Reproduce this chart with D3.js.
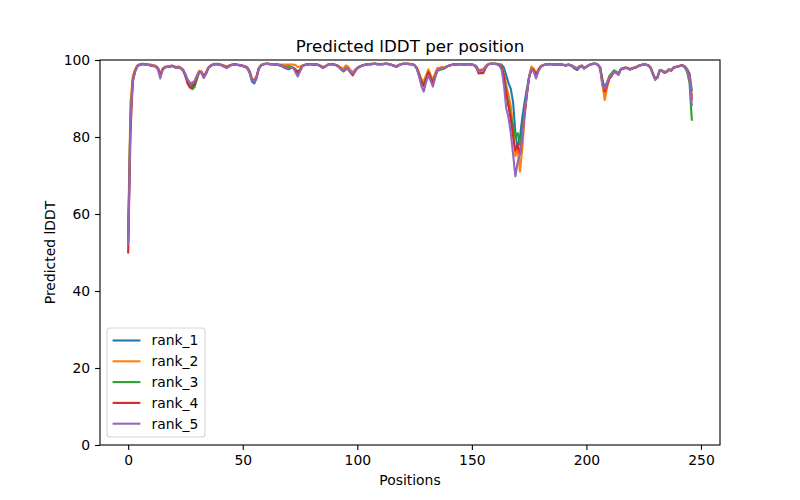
<!DOCTYPE html>
<html lang="en">
<head>
    <meta charset="UTF-8">
    <title>Predicted lDDT per position</title>
    <style>
        body { margin: 0; background: #fff; }
        svg text { font-family: 'DejaVu Sans', sans-serif; fill: #000; }
    </style>
    <script src="https://d3js.org/d3.v7.min.js"></script>
</head>
<body>
    <svg width="800" height="500"></svg>
    <script>
        // per-position predicted lDDT (positions 0..246)
        const rank_1 = [
            53, 86, 95.0, 97.3, 98.5, 98.8, 98.9, 98.9, 98.8, 98.7,
            98.6, 98.5, 98.4, 97.9, 96.2, 97.6, 98.2, 98.3, 98.3, 98.5,
            98.3, 98.1, 98.2, 97.9, 97.5, 96.3, 94.6, 93.8, 93.5, 94.2,
            95.8, 97.1, 96.9, 95.8, 96.7, 98.0, 98.5, 98.8, 98.9, 98.9,
            98.8, 98.6, 98.3, 98.1, 98.4, 98.7, 98.8, 98.8, 98.7, 98.6,
            98.4, 98.2, 97.8, 96.6, 94.4, 93.9, 95.2, 97.7, 98.6, 98.9,
            99.0, 99.0, 98.9, 98.9, 98.8, 98.8, 98.6, 98.4, 98.0, 97.8,
            97.6, 97.9, 98.0, 97.5, 96.6, 97.4, 98.4, 98.7, 98.8, 98.9,
            98.9, 98.8, 98.9, 98.7, 98.4, 98.1, 98.3, 98.7, 98.9, 98.9,
            98.8, 98.6, 98.2, 97.7, 97.3, 98.0, 97.9, 97.1, 96.6, 97.3,
            97.9, 98.3, 98.5, 98.7, 98.8, 98.9, 98.9, 99.0, 99.0, 98.9,
            98.9, 98.9, 99.0, 99.0, 98.9, 98.7, 98.5, 98.3, 98.6, 98.9,
            99.0, 99.0, 99.0, 98.9, 98.9, 98.6, 97.9, 96.3, 94.6, 93.8,
            95.4, 96.9, 95.6, 94.5, 96.0, 97.5, 97.7, 98.0, 97.9, 98.3,
            98.5, 98.7, 98.8, 98.8, 98.9, 98.9, 98.8, 98.8, 98.9, 98.9,
            98.8, 98.7, 98.3, 97.2, 97.4, 97.5, 98.3, 98.8, 99.0, 99.0,
            99.0, 99.0, 98.9, 98.8, 98.0, 96.0, 94.0, 92.5, 89.0, 81.0,
            77.0, 80.0, 85.0, 89.0, 92.5, 95.5, 97.5, 97.2, 95.8, 97.3,
            98.2, 98.6, 98.8, 98.9, 98.9, 98.9, 98.8, 98.8, 98.9, 98.8,
            98.7, 98.6, 98.7, 98.6, 98.2, 97.7, 97.4, 98.1, 98.4, 97.8,
            98.2, 98.6, 98.9, 99.0, 99.0, 98.8, 98.1, 94.8, 92.4, 94.2,
            95.6, 96.1, 97.0, 96.7, 96.3, 97.5, 97.7, 97.9, 97.8, 97.5,
            97.8, 98.0, 98.2, 98.5, 98.7, 98.8, 98.8, 98.6, 98.0, 96.6,
            95.2, 95.7, 97.3, 97.2, 96.9, 97.1, 97.6, 97.4, 98.0, 98.2,
            98.3, 98.5, 98.6, 98.3, 97.6, 96.5, 92.2
        ];
        const rank_2 = [
            56, 89, 95.8, 97.6, 98.6, 98.9, 99.0, 99.0, 98.9, 98.9,
            98.8, 98.7, 98.5, 98.0, 96.4, 97.7, 98.2, 98.4, 98.4, 98.6,
            98.4, 98.2, 98.3, 98.0, 97.4, 96.0, 94.9, 94.2, 94.0, 94.6,
            96.0, 97.2, 97.0, 96.0, 96.8, 98.1, 98.6, 98.9, 99.0, 99.0,
            98.9, 98.8, 98.6, 98.4, 98.6, 98.8, 98.9, 98.9, 98.8, 98.7,
            98.5, 98.3, 98.0, 97.2, 95.2, 94.6, 95.8, 97.9, 98.7, 98.9,
            99.0, 99.0, 99.0, 98.9, 98.9, 98.9, 98.8, 98.8, 98.8, 98.8,
            98.8, 98.8, 98.8, 98.7, 98.2, 98.3, 98.6, 98.8, 98.9, 98.9,
            98.9, 98.9, 98.9, 98.8, 98.5, 98.2, 98.4, 98.8, 98.9, 99.0,
            98.9, 98.7, 98.4, 98.0, 97.8, 98.6, 98.3, 97.4, 96.8, 97.5,
            98.0, 98.4, 98.6, 98.8, 98.9, 98.9, 99.0, 99.0, 99.0, 99.0,
            98.9, 99.0, 99.0, 99.0, 98.9, 98.8, 98.6, 98.4, 98.7, 98.9,
            99.0, 99.0, 99.0, 99.0, 98.9, 98.7, 98.0, 96.6, 95.0, 94.5,
            96.0, 97.6, 96.2, 94.8, 96.6, 98.0, 98.0, 98.2, 98.1, 98.4,
            98.6, 98.8, 98.8, 98.9, 98.9, 98.9, 98.9, 98.8, 98.9, 98.9,
            98.8, 98.7, 98.4, 97.4, 97.5, 97.6, 98.4, 98.9, 99.0, 99.0,
            99.0, 99.0, 98.8, 98.5, 96.5, 93.5, 91.0, 88.0, 82.0, 75.0,
            77.0, 71.0, 77.0, 85.0, 91.0, 96.0, 98.3, 97.8, 96.5, 97.6,
            98.4, 98.7, 98.9, 98.9, 99.0, 98.9, 98.9, 98.8, 98.9, 98.8,
            98.8, 98.7, 98.8, 98.7, 98.5, 98.1, 97.9, 98.4, 98.6, 98.0,
            98.3, 98.7, 98.9, 99.0, 99.0, 98.8, 97.5, 93.5, 89.6, 92.8,
            95.0, 96.0, 97.2, 96.9, 96.4, 97.7, 97.9, 98.1, 98.0, 97.7,
            97.9, 98.1, 98.3, 98.6, 98.8, 98.8, 98.8, 98.7, 98.1, 96.6,
            95.2, 95.6, 97.4, 97.3, 96.9, 97.1, 97.6, 97.4, 98.1, 98.3,
            98.4, 98.6, 98.7, 98.3, 97.4, 95.5, 90.8
        ];
        const rank_3 = [
            54, 85, 94.8, 97.1, 98.4, 98.8, 98.9, 98.9, 98.8, 98.7,
            98.6, 98.4, 98.3, 97.7, 96.0, 97.5, 98.1, 98.2, 98.2, 98.4,
            98.2, 98.0, 98.1, 97.8, 97.2, 95.8, 94.0, 93.2, 92.4, 93.0,
            95.0, 96.8, 96.8, 95.6, 96.5, 97.9, 98.4, 98.8, 98.9, 98.9,
            98.8, 98.6, 98.3, 98.0, 98.4, 98.7, 98.8, 98.8, 98.7, 98.6,
            98.5, 98.3, 98.0, 97.0, 95.0, 94.6, 95.6, 97.8, 98.6, 98.9,
            99.0, 99.0, 98.9, 98.9, 98.8, 98.8, 98.7, 98.6, 98.4, 98.3,
            98.4, 98.2, 98.0, 97.6, 97.0, 97.5, 98.4, 98.7, 98.8, 98.9,
            98.9, 98.8, 98.9, 98.7, 98.4, 98.0, 98.3, 98.7, 98.9, 98.9,
            98.8, 98.6, 98.2, 97.5, 97.0, 97.6, 97.6, 96.8, 96.4, 97.2,
            97.8, 98.2, 98.5, 98.7, 98.8, 98.9, 98.9, 99.0, 99.0, 98.9,
            98.9, 98.9, 99.0, 99.0, 98.9, 98.7, 98.5, 98.2, 98.6, 98.9,
            99.0, 99.0, 99.0, 98.9, 98.9, 98.6, 97.8, 96.2, 94.5, 93.6,
            95.2, 96.8, 95.4, 94.2, 95.8, 97.2, 97.4, 97.6, 97.8, 98.2,
            98.5, 98.7, 98.8, 98.8, 98.9, 98.9, 98.8, 98.8, 98.9, 98.9,
            98.8, 98.7, 98.3, 97.2, 97.3, 97.4, 98.2, 98.8, 99.0, 99.0,
            99.0, 98.9, 98.7, 98.3, 96.0, 92.0, 88.5, 85.5, 83.0, 80.0,
            81.0, 78.0, 81.5, 87.0, 91.5, 95.5, 97.6, 97.2, 95.8, 97.2,
            98.2, 98.6, 98.8, 98.9, 98.9, 98.9, 98.8, 98.8, 98.9, 98.8,
            98.7, 98.6, 98.8, 98.7, 98.4, 98.0, 97.8, 98.3, 98.5, 97.9,
            98.2, 98.6, 98.9, 99.0, 99.0, 98.8, 98.0, 94.8, 92.2, 94.0,
            95.8, 96.6, 97.3, 97.0, 96.6, 97.6, 97.8, 98.0, 97.9, 97.6,
            97.8, 98.0, 98.2, 98.5, 98.7, 98.8, 98.8, 98.6, 98.0, 96.4,
            95.0, 95.5, 97.3, 97.2, 96.7, 96.9, 97.5, 97.3, 98.0, 98.2,
            98.3, 98.5, 98.5, 98.0, 96.8, 94.0, 84.5
        ];
        const rank_4 = [
            50, 81, 94.2, 97.0, 98.3, 98.7, 98.9, 98.9, 98.8, 98.7,
            98.6, 98.5, 98.4, 97.8, 96.0, 97.5, 98.1, 98.2, 98.3, 98.5,
            98.3, 98.0, 98.2, 97.9, 97.3, 95.8, 93.8, 92.8, 93.0, 93.8,
            95.4, 96.9, 96.7, 95.6, 96.6, 98.0, 98.5, 98.8, 98.9, 98.9,
            98.8, 98.6, 98.3, 98.0, 98.4, 98.7, 98.8, 98.8, 98.7, 98.6,
            98.5, 98.3, 98.0, 97.0, 95.0, 94.5, 95.6, 97.8, 98.6, 98.9,
            99.0, 99.0, 98.9, 98.9, 98.8, 98.8, 98.7, 98.5, 98.2, 98.0,
            97.8, 97.9, 98.0, 97.4, 96.8, 97.3, 98.4, 98.7, 98.8, 98.9,
            98.9, 98.8, 98.9, 98.7, 98.4, 98.0, 98.3, 98.7, 98.9, 98.9,
            98.8, 98.6, 98.2, 97.6, 97.2, 97.8, 97.6, 96.8, 96.0, 97.0,
            97.8, 98.2, 98.5, 98.7, 98.8, 98.9, 98.9, 99.0, 99.0, 98.9,
            98.9, 98.9, 99.0, 99.0, 98.9, 98.7, 98.5, 98.2, 98.6, 98.9,
            99.0, 99.0, 99.0, 98.9, 98.9, 98.6, 97.8, 96.0, 94.2, 93.2,
            95.0, 96.8, 95.2, 94.0, 95.9, 97.4, 97.6, 97.9, 97.9, 98.3,
            98.5, 98.7, 98.8, 98.8, 98.9, 98.9, 98.8, 98.8, 98.9, 98.9,
            98.8, 98.6, 97.9, 96.5, 96.6, 96.6, 97.9, 98.8, 99.0, 99.0,
            99.0, 98.9, 98.7, 98.2, 95.5, 91.0, 88.0, 84.5, 80.0, 76.5,
            78.0, 75.5, 80.0, 86.0, 91.0, 95.5, 97.6, 97.4, 96.0, 97.3,
            98.2, 98.6, 98.8, 98.9, 98.9, 98.9, 98.8, 98.8, 98.9, 98.8,
            98.7, 98.6, 98.8, 98.7, 98.4, 98.0, 97.8, 98.3, 98.5, 97.8,
            98.2, 98.6, 98.9, 99.0, 99.0, 98.8, 97.9, 94.2, 91.8, 93.6,
            95.2, 95.8, 96.9, 96.7, 96.2, 97.6, 97.8, 98.0, 97.9, 97.6,
            97.8, 98.0, 98.2, 98.5, 98.7, 98.8, 98.8, 98.6, 98.0, 96.4,
            95.0, 95.4, 97.2, 97.1, 96.7, 96.9, 97.4, 97.2, 98.0, 98.2,
            98.3, 98.5, 98.6, 98.2, 97.3, 95.5, 89.8
        ];
        const rank_5 = [
            52, 84, 94.5, 97.0, 98.3, 98.8, 98.9, 98.9, 98.8, 98.7,
            98.6, 98.5, 98.3, 97.5, 95.2, 97.3, 98.0, 98.2, 98.3, 98.5,
            98.3, 98.0, 98.1, 97.8, 97.4, 96.2, 94.8, 93.9, 94.0, 94.5,
            95.8, 97.0, 96.7, 95.3, 96.4, 97.9, 98.5, 98.8, 98.9, 98.9,
            98.8, 98.5, 98.2, 97.9, 98.3, 98.7, 98.8, 98.8, 98.7, 98.6,
            98.5, 98.2, 97.9, 96.8, 94.8, 94.4, 95.4, 97.7, 98.6, 98.9,
            99.0, 99.0, 98.9, 98.9, 98.8, 98.8, 98.7, 98.5, 98.2, 98.0,
            97.9, 98.0, 98.0, 96.8, 95.7, 97.0, 98.3, 98.7, 98.8, 98.9,
            98.9, 98.8, 98.9, 98.7, 98.3, 97.9, 98.3, 98.7, 98.9, 98.9,
            98.8, 98.6, 98.2, 97.5, 97.3, 97.9, 97.6, 96.9, 96.5, 97.2,
            97.8, 98.2, 98.5, 98.7, 98.8, 98.9, 98.9, 99.0, 99.0, 98.9,
            98.9, 98.9, 99.0, 99.0, 98.9, 98.7, 98.5, 98.2, 98.6, 98.9,
            99.0, 99.0, 99.0, 98.9, 98.9, 98.6, 97.6, 95.6, 93.2, 91.8,
            94.2, 96.0, 94.6, 93.1, 95.4, 97.4, 97.6, 97.9, 97.9, 98.3,
            98.5, 98.7, 98.8, 98.8, 98.9, 98.9, 98.8, 98.8, 98.9, 98.9,
            98.8, 98.7, 98.2, 97.0, 97.2, 97.3, 98.2, 98.8, 99.0, 99.0,
            99.0, 98.9, 98.5, 97.5, 93.5, 87.5, 85.0, 81.0, 75.5, 69.8,
            73.5, 75.5, 80.0, 86.0, 91.0, 95.8, 97.5, 97.0, 95.2, 97.0,
            98.2, 98.6, 98.8, 98.9, 98.9, 98.9, 98.8, 98.8, 98.9, 98.8,
            98.7, 98.6, 98.8, 98.7, 98.4, 98.0, 97.8, 98.3, 98.5, 97.9,
            98.2, 98.6, 98.9, 99.0, 99.0, 98.8, 97.8, 93.5, 92.5, 94.2,
            95.5, 96.0, 97.0, 96.8, 96.1, 97.6, 97.8, 98.0, 97.9, 97.5,
            97.8, 98.0, 98.2, 98.5, 98.7, 98.8, 98.8, 98.6, 97.9, 96.3,
            94.8, 95.4, 97.3, 97.2, 96.7, 96.9, 97.5, 97.3, 98.0, 98.2,
            98.3, 98.5, 98.6, 98.2, 97.2, 95.0, 88.3
        ];

        const seriesNames = ["rank_1", "rank_2", "rank_3", "rank_4", "rank_5"];
        const seriesValues = [rank_1, rank_2, rank_3, rank_4, rank_5];
        const colors = ["#1f77b4", "#ff7f0e", "#2ca02c", "#d62728", "#9467bd"];
        const xTicks = [0, 50, 100, 150, 200, 250];
        const yTicks = [0, 20, 40, 60, 80, 100];

        const width = 800, height = 500;
        const plotL = 100, plotR = 720, plotT = 60, plotB = 445;
        const fs = 13.9;

        const svg = d3.select("svg").attr("width", width).attr("height", height);

        // matplotlib-ish 5% margin on x
        const n = rank_1.length - 1;
        const pad = n * 0.05;
        const x = d3.scaleLinear().domain([-pad, n + pad]).range([plotL, plotR]);
        const y = d3.scaleLinear().domain([0, 100]).range([plotB, plotT]);

        const xAxis = svg.append("g")
            .attr("transform", `translate(0, ${plotB})`)
            .call(d3.axisBottom(x).tickValues(xTicks).tickSize(4.9).tickSizeOuter(0).tickPadding(4.9));
        const yAxis = svg.append("g")
            .attr("transform", `translate(${plotL}, 0)`)
            .call(d3.axisLeft(y).tickValues(yTicks).tickSize(4.9).tickSizeOuter(0).tickPadding(4.9));

        [xAxis, yAxis].forEach(g => {
            g.attr("font-family", "'DejaVu Sans', sans-serif").attr("font-size", fs);
            g.select(".domain").remove();
            g.selectAll(".tick line").attr("stroke", "#000").attr("stroke-width", 1.1);
            g.selectAll(".tick text").attr("fill", "#000");
        });

        const line = d3.line()
            .x((d, i) => x(i))
            .y(d => y(d));

        svg.append("g")
            .selectAll("path")
            .data(seriesValues)
            .enter().append("path")
            .attr("d", d => line(d))
            .attr("fill", "none")
            .attr("stroke", (d, i) => colors[i])
            .attr("stroke-width", 2.08)
            .attr("stroke-linejoin", "round")
            .attr("stroke-linecap", "square");

        // frame
        svg.append("rect")
            .attr("x", plotL).attr("y", plotT)
            .attr("width", plotR - plotL).attr("height", plotB - plotT)
            .attr("fill", "none")
            .attr("stroke", "#000")
            .attr("stroke-width", 1.1);

        svg.append("text")
            .attr("x", (plotL + plotR) / 2)
            .attr("y", plotT - 8.3)
            .attr("text-anchor", "middle")
            .style("font-size", "16.7px")
            .text("Predicted lDDT per position");

        svg.append("text")
            .attr("x", (plotL + plotR) / 2)
            .attr("y", 485)
            .attr("text-anchor", "middle")
            .style("font-size", fs + "px")
            .text("Positions");

        svg.append("text")
            .attr("transform", `translate(55, ${(plotT + plotB) / 2}) rotate(-90)`)
            .attr("text-anchor", "middle")
            .style("font-size", fs + "px")
            .text("Predicted lDDT");

        // legend, lower left
        const legend = svg.append("g");
        const lx = 107, ly = 328, lw = 98, lh = 109, rowGap = 20.8;
        legend.append("rect")
            .attr("x", lx).attr("y", ly)
            .attr("width", lw).attr("height", lh)
            .attr("rx", 3).attr("ry", 3)
            .attr("fill", "rgba(255,255,255,0.8)")
            .attr("stroke", "#d6d6d6")
            .attr("stroke-width", 1.1);

        const rows = legend.selectAll("g.row")
            .data(seriesNames)
            .enter().append("g")
            .attr("class", "row")
            .attr("transform", (d, i) => `translate(0, ${ly + 12.5 + i * rowGap})`);

        rows.append("line")
            .attr("x1", lx + 5.6).attr("x2", lx + 5.6 + 27.8)
            .attr("y1", 0).attr("y2", 0)
            .attr("stroke", (d, i) => colors[i])
            .attr("stroke-width", 2.08);

        rows.append("text")
            .attr("x", lx + 5.6 + 27.8 + 11.1)
            .attr("y", 0)
            .attr("dy", "0.35em")
            .style("font-size", fs + "px")
            .text(d => d);
    </script>
</body>
</html>
